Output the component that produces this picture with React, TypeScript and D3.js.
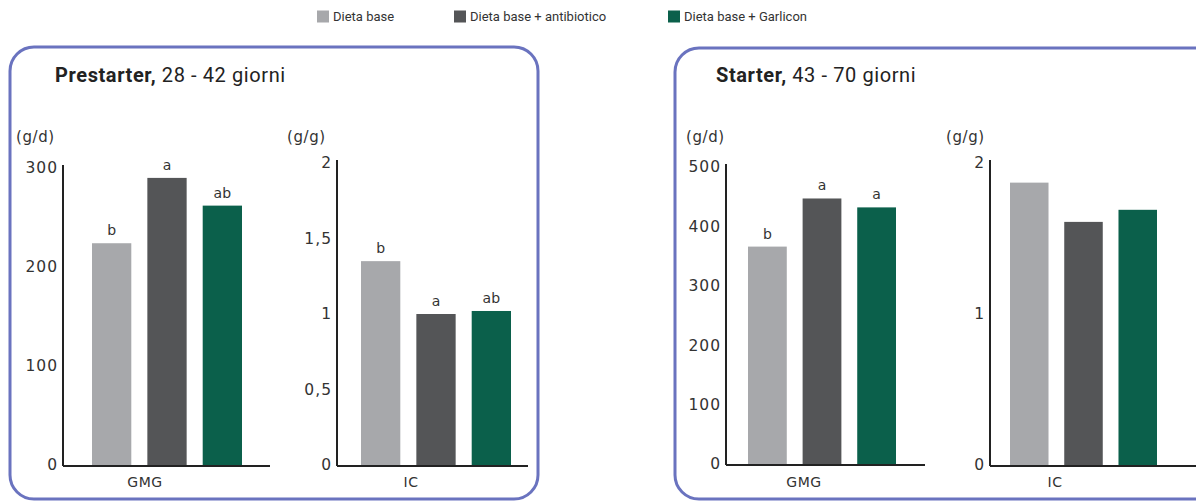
import React from "react";
import * as d3 from "d3";

const series = ["Dieta base", "Dieta base + antibiotico", "Dieta base + Garlicon"];
const colors = ["#a7a8ab", "#545557", "#0b604b"];

const prestarterGMG = [224, 290, 262];
const prestarterGMGLetters = ["b", "a", "ab"];
const prestarterIC = [1.35, 1.0, 1.02];
const prestarterICLetters = ["b", "a", "ab"];
const starterGMG = [366, 447, 432];
const starterGMGLetters = ["b", "a", "a"];
const starterIC = [1.87, 1.61, 1.69];
const starterICLetters = ["", "", ""];

const gmgTicks1 = [0, 100, 200, 300];
const icTicks1 = [0, 0.5, 1, 1.5, 2];
const gmgTicks2 = [0, 100, 200, 300, 400, 500];
const icTicks2 = [0, 1, 2];

const FONT = "Roboto, 'Open Sans', sans-serif";
const AXF = "'DejaVu Sans', sans-serif";
const TXT = "#333";

const fmt = (v: number) => String(v).replace(".", ",");

type SubProps = {
  values: number[];
  letters: string[];
  ticks: number[];
  max: number;
  axisX: number;
  xEnd: number;
  barStart: number;
  barEnd: number;
  yZero: number;
  yMax: number;
  category: string;
  catX: number;
  unit: string;
  unitX: number;
};

function SubChart(p: SubProps) {
  const y = d3.scaleLinear().domain([0, p.max]).range([p.yZero, p.yMax]);
  const x = d3.scaleBand<string>().domain(series).range([p.barStart, p.barEnd]).paddingInner(0.29).paddingOuter(0);
  return (
    <g>
      <text x={p.unitX} y={142} fontSize={15} fill={TXT} fontFamily={AXF} letterSpacing={0.6}>{p.unit}</text>
      {p.ticks.map((t) => (
        <text key={t} x={p.axisX - 5} y={y(t)} dy="0.35em" textAnchor="end" fontSize={15.5} fill={TXT} fontFamily={AXF} letterSpacing={1}>
          {fmt(t)}
        </text>
      ))}
      {p.values.map((v, i) => (
        <g key={i}>
          <rect x={x(series[i])} y={y(v)} width={x.bandwidth()} height={p.yZero - y(v)} fill={colors[i]} />
          {p.letters[i] ? (
            <text x={(x(series[i]) as number) + x.bandwidth() / 2} y={y(v) - 8} textAnchor="middle" fontSize={14} fill={TXT} fontFamily={AXF}>
              {p.letters[i]}
            </text>
          ) : null}
        </g>
      ))}
      <line x1={p.axisX} x2={p.axisX} y1={p.yMax - 3} y2={p.yZero + 1} stroke="#222" strokeWidth={2} />
      <line x1={p.axisX} x2={p.xEnd} y1={p.yZero + 1} y2={p.yZero + 1} stroke="#222" strokeWidth={2} />
      <text x={p.catX} y={487} textAnchor="middle" fontSize={14} fill={TXT} fontFamily={AXF} letterSpacing={0.5}>{p.category}</text>
    </g>
  );
}

export default function App() {
  const legendX = [317, 454, 668];
  return (
    <svg width={1196} height={501} style={{ position: "absolute", left: 0, top: 0, background: "#fff" }}>
      {series.map((s, i) => (
        <g key={s}>
          <rect x={legendX[i]} y={10.5} width={12} height={12} fill={colors[i]} />
          <text x={legendX[i] + 16} y={21} fontSize={13} fill={TXT} fontFamily={FONT}>{s}</text>
        </g>
      ))}
      <rect x={10} y={47} width={528} height={452} rx={24} fill="none" stroke="#6a73bf" strokeWidth={3} />
      <rect x={675} y={48} width={560} height={451} rx={24} fill="none" stroke="#6a73bf" strokeWidth={3} />
      <text x={55} y={82} fontSize={20} fill="#222" fontFamily={FONT} letterSpacing={0.6}>
        <tspan fontWeight="bold">Prestarter,</tspan> 28 - 42 giorni
      </text>
      <text x={716} y={82} fontSize={20} fill="#222" fontFamily={FONT} letterSpacing={0.6}>
        <tspan fontWeight="bold">Starter,</tspan> 43 - 70 giorni
      </text>
      <SubChart values={prestarterGMG} letters={prestarterGMGLetters} ticks={gmgTicks1} max={300}
        axisX={63} xEnd={270} barStart={92} barEnd={242} yZero={465} yMax={168}
        category="GMG" catX={145} unit="(g/d)" unitX={16} />
      <SubChart values={prestarterIC} letters={prestarterICLetters} ticks={icTicks1} max={2}
        axisX={337} xEnd={528} barStart={361} barEnd={511} yZero={465} yMax={163}
        category="IC" catX={411} unit="(g/g)" unitX={287} />
      <SubChart values={starterGMG} letters={starterGMGLetters} ticks={gmgTicks2} max={500}
        axisX={726} xEnd={925} barStart={748} barEnd={896} yZero={464} yMax={167}
        category="GMG" catX={804} unit="(g/d)" unitX={686} />
      <SubChart values={starterIC} letters={starterICLetters} ticks={icTicks2} max={2}
        axisX={990} xEnd={1196} barStart={1010} barEnd={1157} yZero={465} yMax={163}
        category="IC" catX={1055} unit="(g/g)" unitX={946} />
    </svg>
  );
}
